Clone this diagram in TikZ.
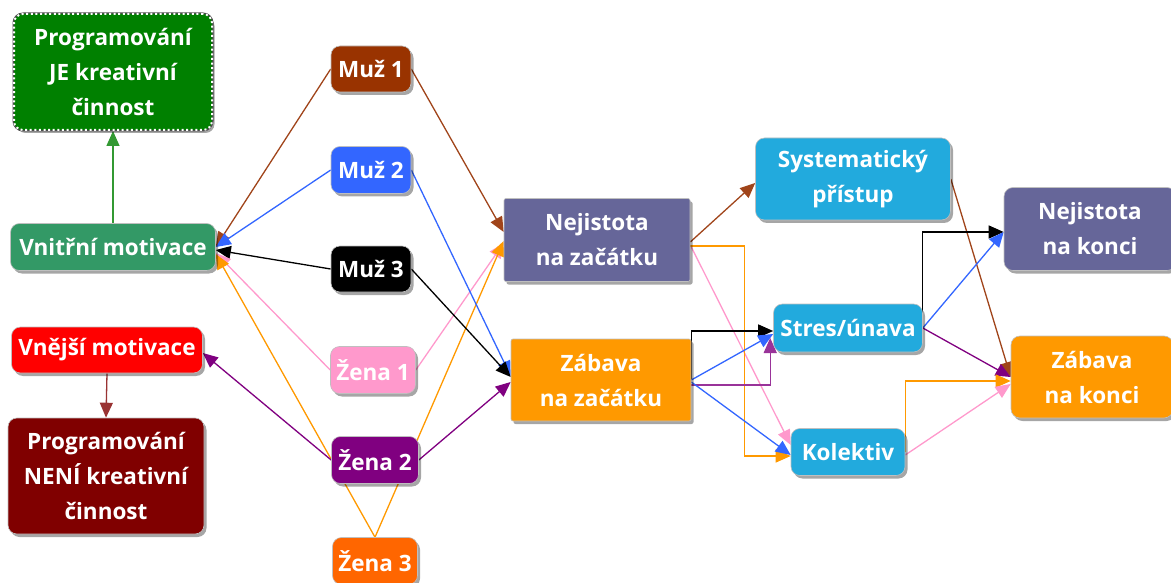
\documentclass[tikz,border=0pt]{standalone}
\usepackage{fontspec}
\setmainfont{Open Sans}
\usetikzlibrary{arrows.meta,shadows,calc}
\pgfdeclarelayer{bg}
\pgfsetlayers{bg,main}
\definecolor{cJE}{HTML}{008000}
\definecolor{cVn}{HTML}{339966}
\definecolor{cVne}{HTML}{FF0000}
\definecolor{cNE}{HTML}{800000}
\definecolor{cM1}{HTML}{993300}
\definecolor{cM2}{HTML}{3366FF}
\definecolor{cZ1}{HTML}{FF99CC}
\definecolor{cZ2}{HTML}{800080}
\definecolor{cZ3}{HTML}{FF6600}
\definecolor{cNej}{HTML}{666699}
\definecolor{cZab}{HTML}{FF9900}
\definecolor{cBl}{HTML}{22AADD}
\definecolor{eBrown}{HTML}{A0441A}
\definecolor{eBlue}{HTML}{3366FF}
\definecolor{ePink}{HTML}{FF99CC}
\definecolor{eOr}{HTML}{FF9900}
\definecolor{ePur}{HTML}{800080}
\definecolor{ePur2}{HTML}{993399}
\definecolor{eGreen}{HTML}{339933}
\definecolor{eRed}{HTML}{993333}
\begin{document}
\begin{tikzpicture}[x=1pt,y=-1pt,
  box/.style={rounded corners=9pt, text=white,
    font=\fontsize{22.5}{35}\selectfont\bfseries, align=center, inner sep=0pt,
    draw=black!25, line width=0.6pt,
    drop shadow={shadow xshift=2.5pt,shadow yshift=-3pt,opacity=0.35,fill=black}},
  sqbox/.style={box, rounded corners=2pt},
  ar/.style={line width=1.3pt, -{Triangle[length=15pt,width=13pt]}},
]
\useasboundingbox (0,0) rectangle (1171,583);

\node[box, fill=cJE, draw=white, line width=2pt, dash pattern=on 2pt off 2.6pt,
  preaction={draw=black!70, line width=3pt, solid},
  minimum width=198pt, minimum height=116pt] (pj) at (113,72) {Programování\\JE kreativní\\činnost};
\node[box, fill=cVn, minimum width=205pt, minimum height=47pt] (vn) at (113,247) {Vnitřní motivace};
\node[box, fill=cVne, minimum width=191pt, minimum height=46pt] (vne) at (107,350) {Vnější motivace};
\node[box, fill=cNE, minimum width=196pt, minimum height=116pt] (pn) at (106,476) {Programování\\NENÍ kreativní\\činnost};

\node[box, fill=cM1, minimum width=80pt, minimum height=46pt] (m1) at (371,69) {Muž 1};
\node[box, fill=cM2, minimum width=80pt, minimum height=47pt] (m2) at (371,170) {Muž 2};
\node[box, fill=black, minimum width=80pt, minimum height=46pt] (m3) at (371,269) {Muž 3};
\node[box, fill=cZ1, minimum width=85pt, minimum height=47pt] (z1) at (373,370) {Žena 1};
\node[box, fill=cZ2, minimum width=87pt, minimum height=47pt] (z2) at (375,460) {Žena 2};
\node[box, fill=cZ3, minimum width=85pt, minimum height=47pt] (z3) at (375,561) {Žena 3};

\node[sqbox, fill=cNej, minimum width=186pt, minimum height=83pt] (nz) at (597,240) {Nejistota\\na začátku};
\node[sqbox, fill=cZab, minimum width=180pt, minimum height=82pt] (zz) at (601,380) {Zábava\\na začátku};

\node[box, fill=cBl, minimum width=195pt, minimum height=82pt] (sy) at (853,179) {Systematický\\přístup};
\node[box, fill=cBl, minimum width=149pt, minimum height=48pt] (st) at (848,328) {Stres/únava};
\node[box, fill=cBl, minimum width=114pt, minimum height=47pt] (kol) at (848,452) {Kolektiv};

\node[box, fill=cNej, minimum width=172pt, minimum height=83pt] (nk) at (1090,229) {Nejistota\\na konci};
\node[box, fill=cZab, minimum width=162pt, minimum height=82pt] (zk) at (1092,377) {Zábava\\na konci};

\begin{pgfonlayer}{bg}
\draw[ar, eGreen] (vn.north) -- (pj.south);
\draw[ar, eRed] (vne.south) -- (pn.north);

\draw[ar, eBrown] (m1.west) -- (vn.east);
\draw[ar, eBlue] (m2.west) -- (vn.east);
\draw[ar, black] (m3.west) -- ([yshift=-3pt]vn.east);
\draw[ar, ePink] (z1.west) -- ([yshift=-6pt]vn.east);
\draw[ar, eOr] (z3.north) -- ([yshift=-7pt]vn.east);
\draw[ar, ePur] (z2.west) -- ([yshift=-3pt]vne.east);

\draw[ar, eBrown] (m1.east) -- ([yshift=8pt]nz.west);
\draw[ar, ePink] (z1.east) -- ([yshift=-3pt]nz.west);
\draw[ar, eOr] (z3.north) -- ([yshift=-1pt]nz.west);
\draw[ar, eBlue] (m2.east) -- ([yshift=4pt]zz.west);
\draw[ar, black] (m3.east) -- ([yshift=3pt]zz.west);
\draw[ar, ePur] (z2.east) -- ([yshift=-2pt]zz.west);

\draw[ar, eBrown] ([yshift=-2pt]nz.east) -- ([yshift=-4pt]sy.west);
\draw[ar, ePink] ([yshift=-5pt]nz.east) -- ([yshift=7pt]kol.west);
\draw[ar, eOr] ([yshift=-6pt]nz.east) -- ++(54,0) |- ([yshift=-4pt]kol.west);
\draw[ar, black] (zz.east) |- ([yshift=-3pt]st.west);
\draw[ar, eBlue] (zz.east) -- ([yshift=-6pt]st.west);
\draw[ar, ePur2] ([yshift=-5pt]zz.east) -| ([xshift=-3pt,yshift=-10pt]st.west);
\draw[ar, eBlue] ([yshift=-2pt]zz.east) -- ([yshift=-3pt]kol.west);

\draw[ar, eBrown] (sy.east) -- (zk.west);
\draw[ar, black] (st.east) |- ([yshift=-3pt]nk.west);
\draw[ar, eBlue] (st.east) -- ([yshift=-3pt]nk.west);
\draw[ar, ePur] (st.east) -- (zk.west);
\draw[ar, eOr] (kol.east) |- ([yshift=-4pt]zk.west);
\draw[ar, ePink] ([yshift=-3pt]kol.east) -- ([yshift=-7pt]zk.west);
\end{pgfonlayer}
\end{tikzpicture}
\end{document}
